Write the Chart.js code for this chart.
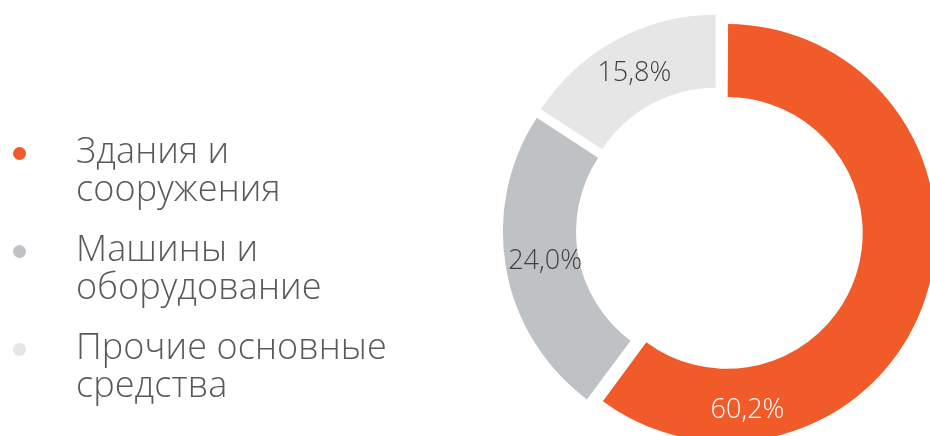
<!DOCTYPE html>
<html lang="ru">
<head>
  <meta charset="UTF-8" />
  <title>Структура основных средств</title>
  <script src="https://cdn.jsdelivr.net/npm/chart.js"></script>
  <style>
    html, body {
      margin: 0;
      width: 930px;
      height: 436px;
      overflow: hidden;
      background: #fff;
      font-family: 'Open Sans', 'DejaVu Sans', sans-serif;
    }

    #wrap {
      position: relative;
      width: 930px;
      height: 436px;
    }

    #chart {
      position: absolute;
      left: 0;
      top: 0;
    }

    #legend {
      position: absolute;
      left: 0;
      top: 131px;
      margin: 0;
      padding: 0;
      list-style: none;
    }

    #legend li {
      position: relative;
      padding-left: 76px;
      font-size: 36px;
      font-weight: 300;
      letter-spacing: 0.1px;
      line-height: 37.5px;
      color: #595959;
      margin-bottom: 23px;
      white-space: pre;
    }

    #legend li span {
      position: absolute;
      left: 12.5px;
      top: 15.5px;
      width: 13px;
      height: 13px;
      border-radius: 50%;
    }
  </style>
</head>
<body>

<div id="wrap">
  <canvas id="chart" width="930" height="436"></canvas>
  <ul id="legend"></ul>
</div>

<script>
  const categories = ["Здания и\nсооружения", "Машины и\nоборудование", "Прочие основные\nсредства"];
  const shares = [60.2, 24.0, 15.8];
  const sliceColors = ["#F15A29", "#BFC2C5", "#E6E6E6"];
  const labelColors = ["#FFFFFF", "#404040", "#404040"];

  // legend on the left, built from the same arrays
  const legend = document.getElementById("legend");
  categories.forEach((name, i) => {
    const li = document.createElement("li");
    li.innerHTML = `<span style="background:${sliceColors[i]}"></span>`;
    li.appendChild(document.createTextNode(name));
    legend.appendChild(li);
  });

  // chart.js grows big offset slices (radius += offset/4); undo that so
  // every exploded slice keeps the ring size, like the original
  const keepRing = {
    id: "keepRing",
    afterDatasetsUpdate(chart) {
      chart.getDatasetMeta(0).data.forEach(arc => {
        const k = (arc.options.offset || 0) / 4;
        const fix = 1 - Math.sin(Math.min(Math.PI, arc.circumference || 0));
        arc.outerRadius -= k * fix;
        arc.innerRadius -= k * fix;
      });
    }
  };

  // percent labels inside the ring
  const sliceLabels = {
    id: "sliceLabels",
    afterDatasetsDraw(chart, args, opts) {
      const ctx = chart.ctx;
      const meta = chart.getDatasetMeta(0);
      ctx.save();
      ctx.font = opts.font;
      ctx.textAlign = "center";
      ctx.textBaseline = "middle";
      meta.data.forEach((arc, i) => {
        const shift = (arc.options.offset || 0) / 4;
        const half = (arc.startAngle + arc.endAngle) / 2;
        const a = arc.startAngle + (arc.endAngle - arc.startAngle) * opts.along[i];
        const r = (arc.innerRadius + arc.outerRadius) / 2 + opts.push[i];
        const x = arc.x + Math.cos(half) * shift + Math.cos(a) * r;
        const y = arc.y + Math.sin(half) * shift + Math.sin(a) * r;
        ctx.fillStyle = labelColors[i];
        ctx.fillText(shares[i].toFixed(1).replace(".", ",") + "%", x, y);
      });
      ctx.restore();
    }
  };

  new Chart(document.getElementById("chart"), {
    type: "doughnut",
    data: {
      labels: categories,
      datasets: [{
        data: shares,
        backgroundColor: sliceColors,
        borderWidth: 0,
        offset: 31,
        hoverOffset: 0
      }]
    },
    options: {
      responsive: false,
      animation: false,
      cutout: "65%",
      radius: 209,
      layout: {
        padding: { left: 509, right: 0, top: 25, bottom: 0 }
      },
      plugins: {
        legend: { display: false },
        tooltip: { enabled: false },
        sliceLabels: {
          font: "300 27px 'Open Sans', 'DejaVu Sans', sans-serif",
          along: [0.8, 0.5, 0.5],
          push: [14, -3, 0]
        }
      }
    },
    plugins: [keepRing, sliceLabels]
  });
</script>

</body>
</html>
